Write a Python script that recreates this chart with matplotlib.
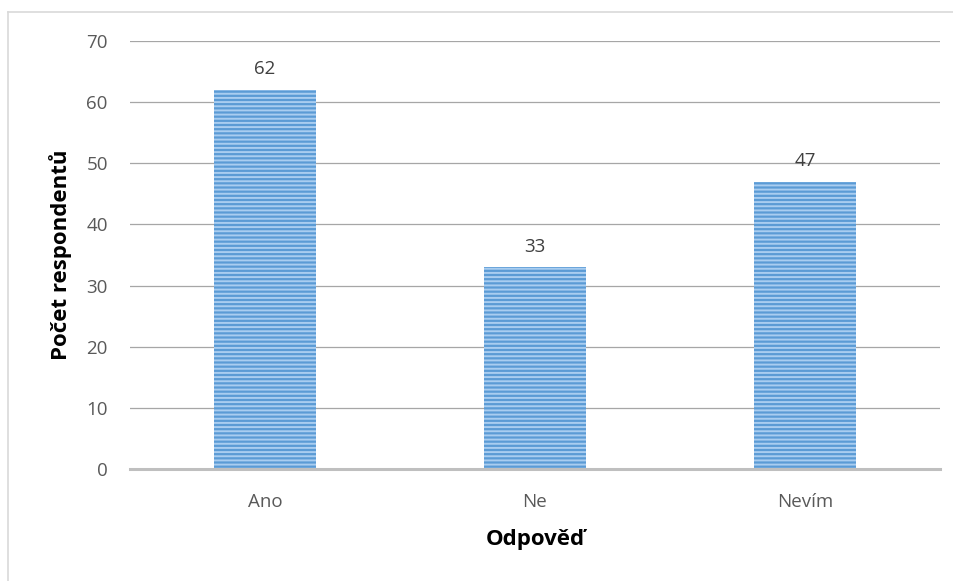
import matplotlib
matplotlib.use("Agg")
import matplotlib.pyplot as plt
from matplotlib.lines import Line2D

categories = ["Ano", "Ne", "Nevím"]
values = [62, 33, 47]
yticks = [0, 10, 20, 30, 40, 50, 60, 70]

plt.rcParams['font.family'] = ['Open Sans', 'DejaVu Sans']
plt.rcParams['hatch.linewidth'] = 1.4

fig = plt.figure(figsize=(9.54, 5.81), dpi=100)
ax = fig.add_axes([130/954, 1-469/581, 810/954, 428/581])

# outer border
fig.add_artist(Line2D([8/954, 8/954], [0, 1-12/581], transform=fig.transFigure, color='#D9D9D9', lw=1.2))
fig.add_artist(Line2D([8/954, 1], [1-12/581, 1-12/581], transform=fig.transFigure, color='#D9D9D9', lw=1.2))

x = list(range(len(categories)))
bars = ax.bar(x, values, width=0.38, color='#5B9BD5', edgecolor='#A9CDF0', linewidth=0,
              hatch='----', zorder=3)
for xi, v in zip(x, values):
    ax.text(xi, v + 1.9, str(v), ha='center', va='bottom', fontsize=13.5, color='#404040')

ax.set_xlim(-0.5, 2.5)
ax.set_ylim(0, 70)
ax.set_yticks(yticks)
ax.set_xticks(x)
ax.set_xticklabels(categories)
ax.yaxis.grid(True, color='#A6A6A6', lw=0.9, zorder=0)
ax.set_axisbelow(True)
for s in ['top', 'right', 'left']:
    ax.spines[s].set_visible(False)
ax.spines['bottom'].set_color('#BFBFBF')
ax.spines['bottom'].set_linewidth(2.2)
ax.spines['bottom'].set_zorder(4)
ax.tick_params(axis='both', length=0, labelsize=13.5, colors='#595959')
ax.tick_params(axis='y', pad=16)
ax.tick_params(axis='x', pad=17.5)

ax.set_ylabel("Počet respondentů", fontsize=16, fontweight='bold', color='black', labelpad=10)
ax.set_xlabel("Odpověď", fontsize=16, fontweight='bold', color='black', labelpad=12.5)

fig.savefig("out.png", dpi=100, facecolor='white')
